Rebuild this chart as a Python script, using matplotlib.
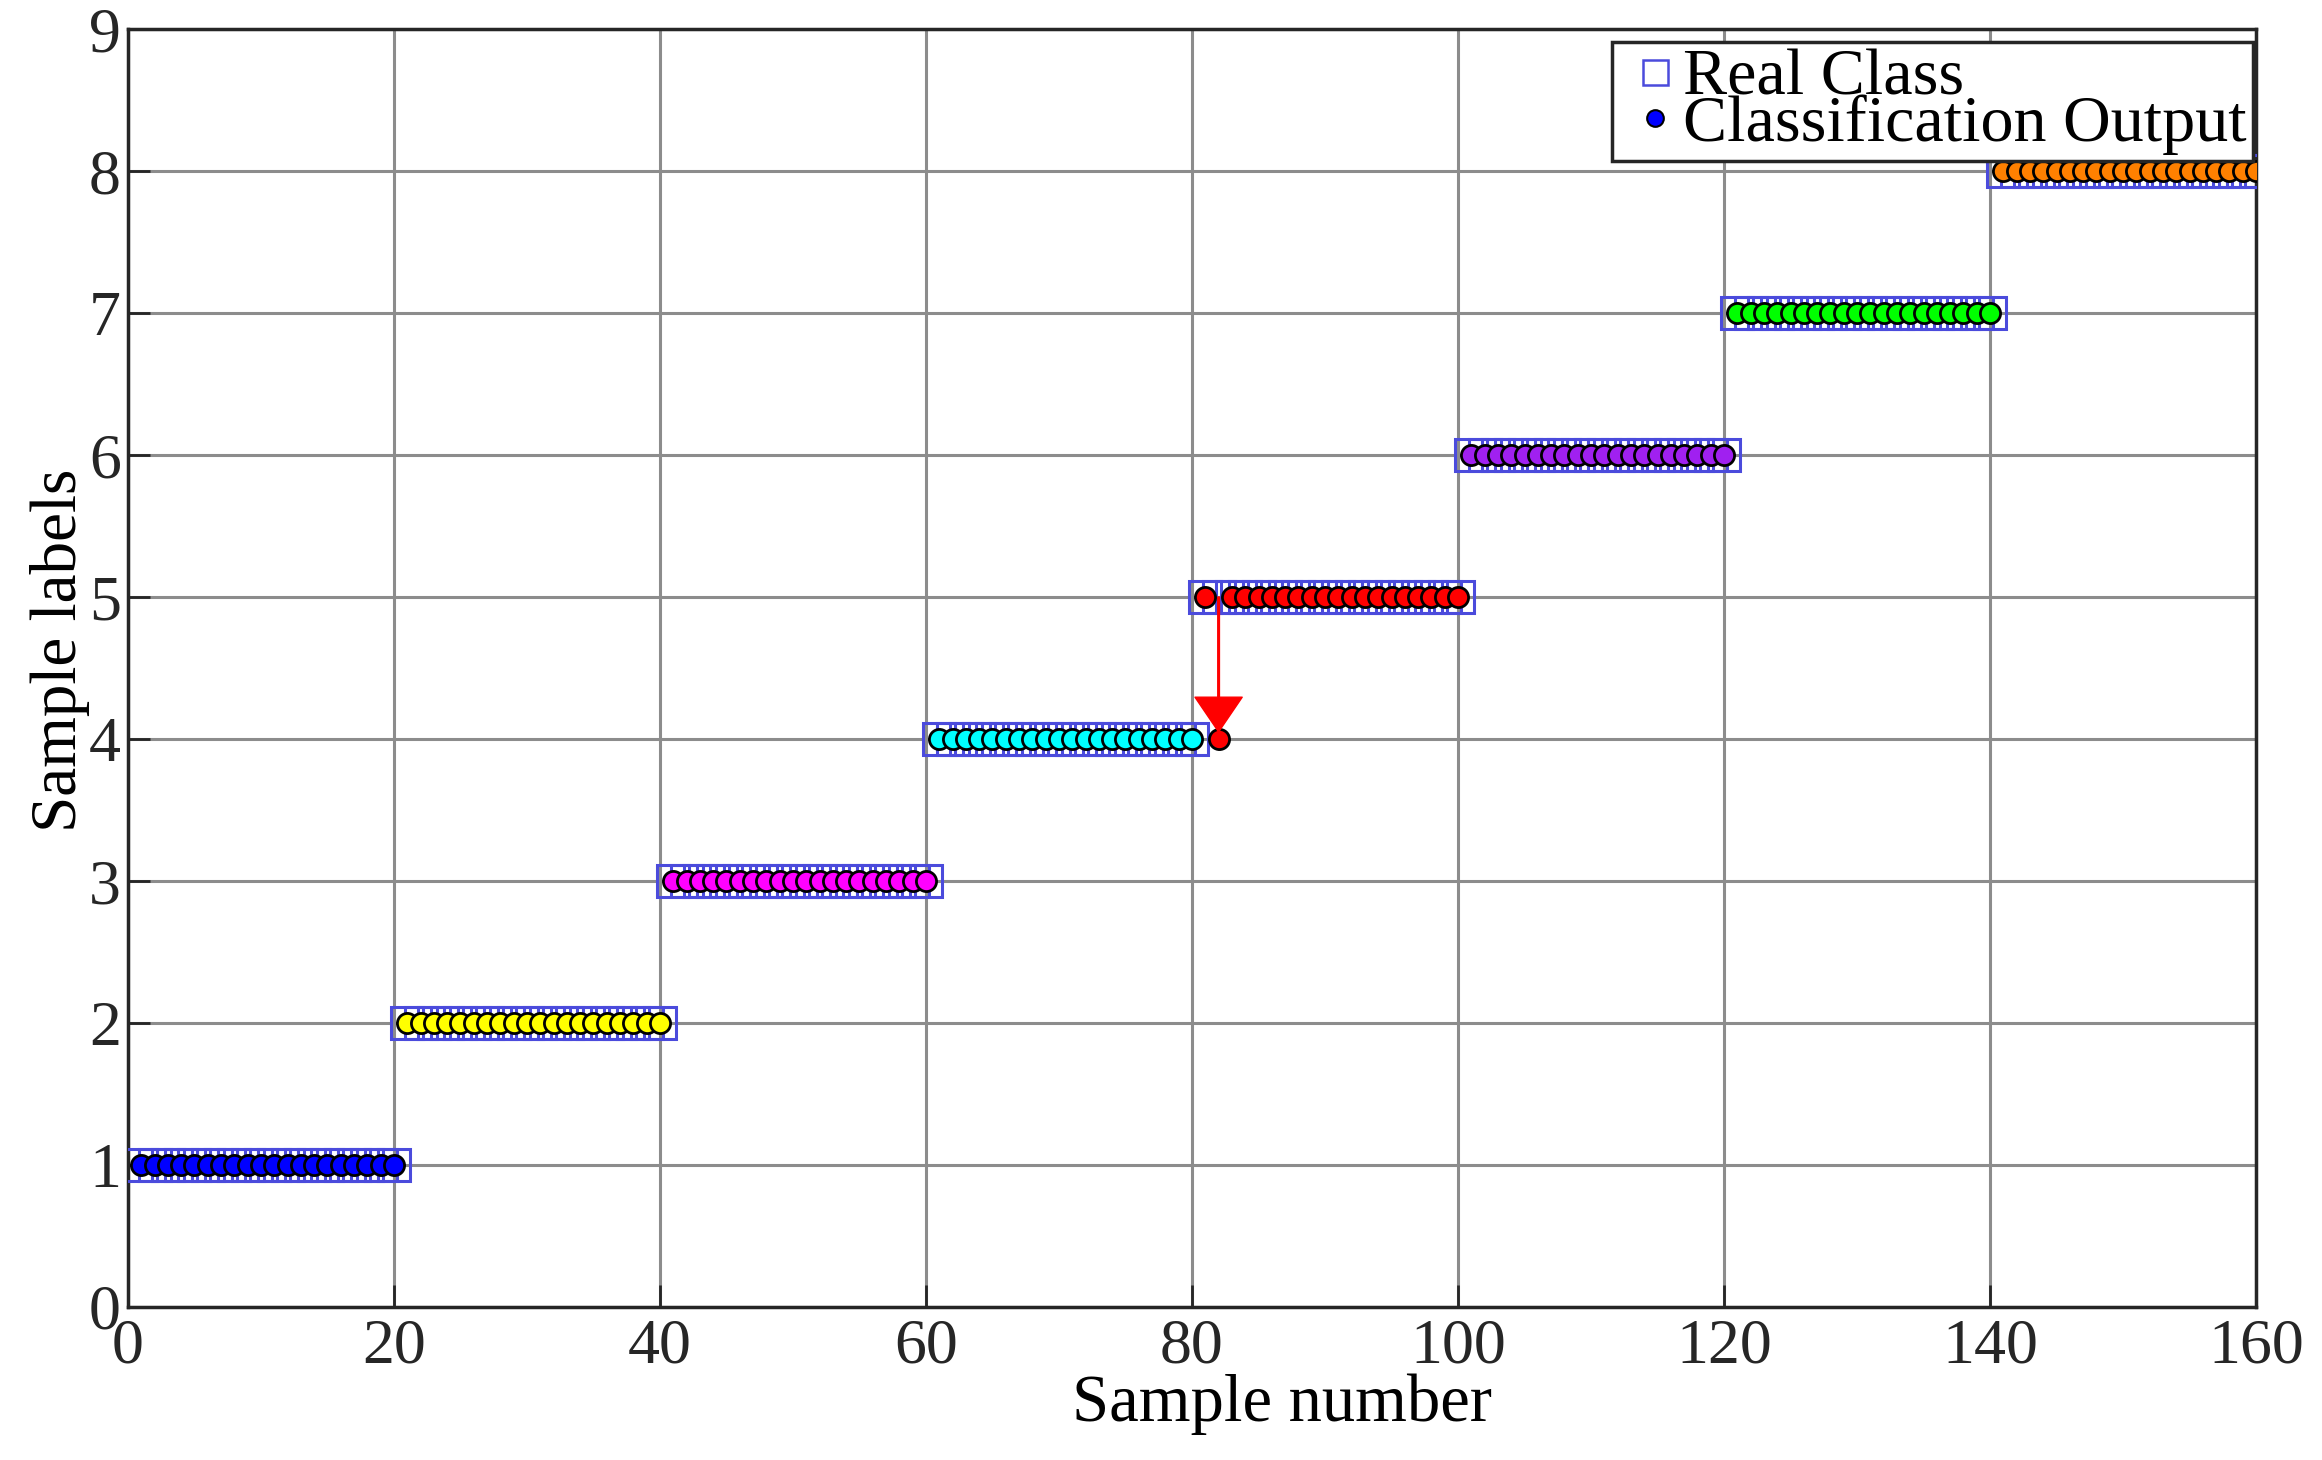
import numpy as np
import matplotlib
matplotlib.use("Agg")
import matplotlib.pyplot as plt
from matplotlib.lines import Line2D

# sample index, true class and predicted class
samples = np.arange(1, 161)
real_class = np.repeat([1, 2, 3, 4, 5, 6, 7, 8], 20)
predicted = real_class.copy()
predicted[81] = 4   # sample 82 is misclassified (class 5 -> 4)

class_colors = ['#0000ff', '#ffff00', '#ff00ff', '#00ffff',
                '#ff0000', '#a020f0', '#00ff00', '#ff8000']
wrong_sample = 82

plt.rcParams['font.family'] = ['Liberation Serif', 'DejaVu Serif']

fig = plt.figure(figsize=(23.22, 14.60), dpi=100)
ax = fig.add_axes([0.0551, 0.1048, 0.9165, 0.8753])

# real class squares
ax.plot(samples, real_class, 's', ms=22.5, mfc='none', mec='#4b4bdc', mew=2.2,
        linestyle='none', zorder=3)

# classification output circles, coloured by true class
for x, y, c in zip(samples, predicted, real_class):
    ax.plot(x, y, 'o', ms=14.5, mfc=class_colors[c - 1], mec='black', mew=2.0,
            zorder=4)

# arrow showing the wrong sample
ax.annotate('', xy=(wrong_sample, 4.05), xytext=(wrong_sample, 5.0),
            arrowprops=dict(facecolor='red', edgecolor='red', width=1.2,
                            headwidth=34, headlength=25, shrink=0),
            zorder=5)

ax.set_xlim(0, 160)
ax.set_ylim(0, 9)
ax.set_xticks(np.arange(0, 161, 20))
ax.set_yticks(np.arange(0, 10, 1))
ax.grid(True, color='#8c8c8c', linewidth=2.2)
ax.set_axisbelow(True)
ax.tick_params(direction='in', length=16, width=2, colors='#262626',
               labelsize=46, pad=8)
ax.tick_params(axis='y', pad=5)
for sp in ax.spines.values():
    sp.set_linewidth(2.5)
    sp.set_color('#262626')

ax.set_xlabel('Sample number', fontsize=48)
ax.xaxis.set_label_coords(0.5425, -0.052)
ax.set_ylabel('Sample labels', fontsize=47)
ax.yaxis.set_label_coords(-0.018, 0.514)

handles = [Line2D([], [], marker='s', ms=18, mfc='none', mec='#4b4bdc', mew=1.8,
                  linestyle='none'),
           Line2D([], [], marker='o', ms=12, mfc='#0000ff', mec='black', mew=1.5,
                  linestyle='none')]
leg = ax.legend(handles, ['Real Class', 'Classification Output'],
                loc='upper right', bbox_to_anchor=(0.9985, 0.99),
                fontsize=47.5, frameon=True, fancybox=False, framealpha=1,
                edgecolor='#262626', borderpad=0.1, labelspacing=-0.22,
                handletextpad=-0.13, handlelength=1.1, borderaxespad=0)
leg.get_frame().set_linewidth(2.5)

fig.savefig('out.png', dpi=100)
